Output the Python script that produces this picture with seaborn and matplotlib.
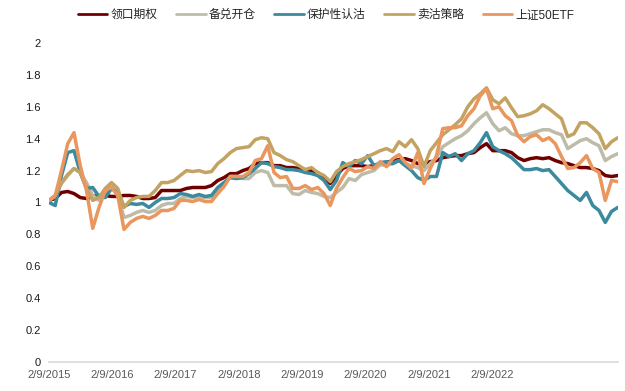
import numpy as np
import pandas as pd
import matplotlib
matplotlib.use("Agg")
import matplotlib.pyplot as plt
import seaborn as sns

# ---- data ----
step = 24  # trading days between samples
tick_every = 243
tick_labels = ["2/9/2015", "2/9/2016", "2/9/2017", "2/9/2018",
               "2/9/2019", "2/9/2020", "2/9/2021", "2/9/2022"]
series_names = ["领口期权", "备兑开仓", "保护性认沽", "卖沽策略", "上证50ETF"]

collar = [1.013, 1.025, 1.063, 1.069, 1.056, 1.031, 1.025, 1.038, 1.044, 1.044,
          1.038, 1.038, 1.044, 1.044, 1.038, 1.025, 1.025, 1.031, 1.075, 1.075,
          1.075, 1.075, 1.088, 1.094, 1.094, 1.094, 1.106, 1.138, 1.156, 1.181,
          1.181, 1.200, 1.213, 1.244, 1.250, 1.250, 1.231, 1.231, 1.219, 1.219,
          1.213, 1.206, 1.200, 1.188, 1.156, 1.119, 1.169, 1.213, 1.231, 1.231,
          1.231, 1.225, 1.231, 1.238, 1.250, 1.263, 1.269, 1.275, 1.263, 1.244,
          1.244, 1.256, 1.263, 1.281, 1.288, 1.294, 1.294, 1.306, 1.313, 1.344,
          1.369, 1.325, 1.325, 1.325, 1.313, 1.281, 1.263, 1.275, 1.281, 1.275,
          1.281, 1.263, 1.250, 1.244, 1.231, 1.219, 1.219, 1.213, 1.200, 1.169,
          1.163, 1.169]
covered = [1.013, 1.038, 1.119, 1.169, 1.213, 1.188, 1.125, 1.044, 1.013, 1.063,
           1.100, 1.044, 0.906, 0.919, 0.938, 0.950, 0.938, 0.950, 0.981, 0.994,
           0.994, 1.025, 1.038, 1.031, 1.038, 1.031, 1.031, 1.075, 1.113, 1.163,
           1.163, 1.150, 1.150, 1.188, 1.200, 1.188, 1.106, 1.106, 1.106, 1.056,
           1.050, 1.075, 1.063, 1.056, 1.038, 1.031, 1.063, 1.094, 1.150, 1.138,
           1.175, 1.188, 1.200, 1.238, 1.231, 1.244, 1.263, 1.244, 1.231, 1.219,
           1.200, 1.244, 1.281, 1.350, 1.375, 1.400, 1.419, 1.450, 1.494, 1.531,
           1.563, 1.494, 1.450, 1.469, 1.431, 1.419, 1.419, 1.431, 1.444, 1.456,
           1.456, 1.438, 1.425, 1.338, 1.363, 1.388, 1.400, 1.375, 1.356, 1.263,
           1.288, 1.306]
protective_put = [1.000, 0.981, 1.169, 1.313, 1.325, 1.188, 1.088, 1.094, 1.038, 1.031,
                  1.088, 1.063, 0.975, 0.994, 0.988, 0.994, 0.969, 1.000, 1.025, 1.025,
                  1.031, 1.056, 1.050, 1.038, 1.050, 1.038, 1.044, 1.094, 1.125, 1.156,
                  1.150, 1.156, 1.181, 1.213, 1.250, 1.244, 1.225, 1.219, 1.206, 1.206,
                  1.200, 1.188, 1.181, 1.169, 1.138, 1.081, 1.138, 1.250, 1.225, 1.263,
                  1.244, 1.294, 1.231, 1.250, 1.256, 1.244, 1.263, 1.231, 1.200, 1.156,
                  1.138, 1.163, 1.163, 1.313, 1.288, 1.306, 1.263, 1.306, 1.325, 1.375,
                  1.438, 1.350, 1.325, 1.306, 1.281, 1.244, 1.206, 1.206, 1.213, 1.200,
                  1.206, 1.163, 1.119, 1.075, 1.044, 1.013, 1.063, 0.981, 0.950, 0.875,
                  0.944, 0.969]
short_put = [1.013, 1.044, 1.125, 1.175, 1.213, 1.188, 1.088, 1.013, 1.031, 1.088,
             1.125, 1.088, 0.969, 1.013, 1.031, 1.038, 1.038, 1.075, 1.125, 1.125,
             1.138, 1.169, 1.200, 1.194, 1.200, 1.188, 1.194, 1.244, 1.275, 1.313,
             1.338, 1.344, 1.350, 1.394, 1.406, 1.400, 1.313, 1.294, 1.269, 1.256,
             1.231, 1.206, 1.219, 1.188, 1.169, 1.131, 1.194, 1.225, 1.244, 1.256,
             1.269, 1.288, 1.306, 1.325, 1.338, 1.319, 1.381, 1.350, 1.394, 1.338,
             1.225, 1.325, 1.375, 1.425, 1.456, 1.488, 1.525, 1.600, 1.650, 1.681,
             1.719, 1.644, 1.619, 1.656, 1.594, 1.538, 1.544, 1.556, 1.575, 1.613,
             1.588, 1.556, 1.525, 1.413, 1.431, 1.500, 1.500, 1.469, 1.431, 1.338,
             1.381, 1.406]
etf50 = [1.013, 1.044, 1.200, 1.369, 1.438, 1.231, 1.075, 0.838, 0.969, 1.075,
         1.094, 1.044, 0.831, 0.875, 0.900, 0.913, 0.900, 0.919, 0.950, 0.950,
         0.963, 1.013, 1.013, 1.006, 1.019, 1.006, 1.006, 1.056, 1.100, 1.163,
         1.163, 1.163, 1.188, 1.263, 1.275, 1.356, 1.188, 1.156, 1.163, 1.088,
         1.088, 1.106, 1.081, 1.094, 1.056, 0.981, 1.088, 1.156, 1.213, 1.194,
         1.200, 1.225, 1.213, 1.256, 1.225, 1.275, 1.300, 1.250, 1.213, 1.313,
         1.119, 1.213, 1.294, 1.463, 1.469, 1.469, 1.481, 1.544, 1.588, 1.669,
         1.713, 1.588, 1.600, 1.544, 1.513, 1.419, 1.381, 1.413, 1.425, 1.388,
         1.406, 1.369, 1.288, 1.213, 1.219, 1.250, 1.294, 1.213, 1.188, 1.013,
         1.138, 1.131]

colors = ["#700000", "#BEBCA9", "#3B8A9D", "#C3A362", "#E9975E"]

# ---- build long table ----
values = [collar, covered, protective_put, short_put, etf50]
n = len(collar)
day_index = np.arange(n) * step
df = pd.concat([pd.DataFrame({"day": day_index, "value": v, "series": name})
                for name, v in zip(series_names, values)], ignore_index=True)

sns.set_theme(style="white")
plt.rcParams["font.family"] = ["Liberation Sans", "Noto Sans CJK SC", "DejaVu Sans"]

fig = plt.figure(figsize=(6.25, 3.91), dpi=100)
ax = fig.add_axes([49 / 625, 1 - 362 / 391, (617.75 - 49) / 625, (362 - 43) / 391])

sns.lineplot(data=df, x="day", y="value", hue="series", hue_order=series_names,
             palette=dict(zip(series_names, colors)), linewidth=2.5, ax=ax,
             legend=True)

ax.set_xlim(day_index[0], day_index[-1])
ax.set_ylim(0, 2)
ax.set_xticks(np.arange(len(tick_labels)) * tick_every)
ax.set_xticklabels(tick_labels)
yt = np.round(np.arange(0, 2.01, 0.2), 1)
ax.set_yticks(yt)
ax.set_yticklabels([("%g" % t) for t in yt])
ax.set_xlabel("")
ax.set_ylabel("")

for s in ["top", "right", "left"]:
    ax.spines[s].set_visible(False)
ax.spines["bottom"].set_color("#d9d9d9")
ax.spines["bottom"].set_linewidth(1.2)
ax.tick_params(axis="x", which="major", direction="out", length=4, width=1,
               color="#d9d9d9", labelsize=8, labelcolor="#595959", pad=2)
ax.tick_params(axis="y", which="major", length=0, labelsize=8,
               labelcolor="#1a1a1a", pad=6)
ax.grid(False)

handles, labels = ax.get_legend_handles_labels()
ax.get_legend().remove()
for h in handles:
    h.set_linewidth(2.0)
fig.legend(handles, labels, loc="center", bbox_to_anchor=(326 / 625, 1 - 15 / 391),
           ncol=5, frameon=False, fontsize=8.5, handlelength=2.5,
           handletextpad=0.25, columnspacing=1.6)

fig.savefig("out.png", dpi=100)
